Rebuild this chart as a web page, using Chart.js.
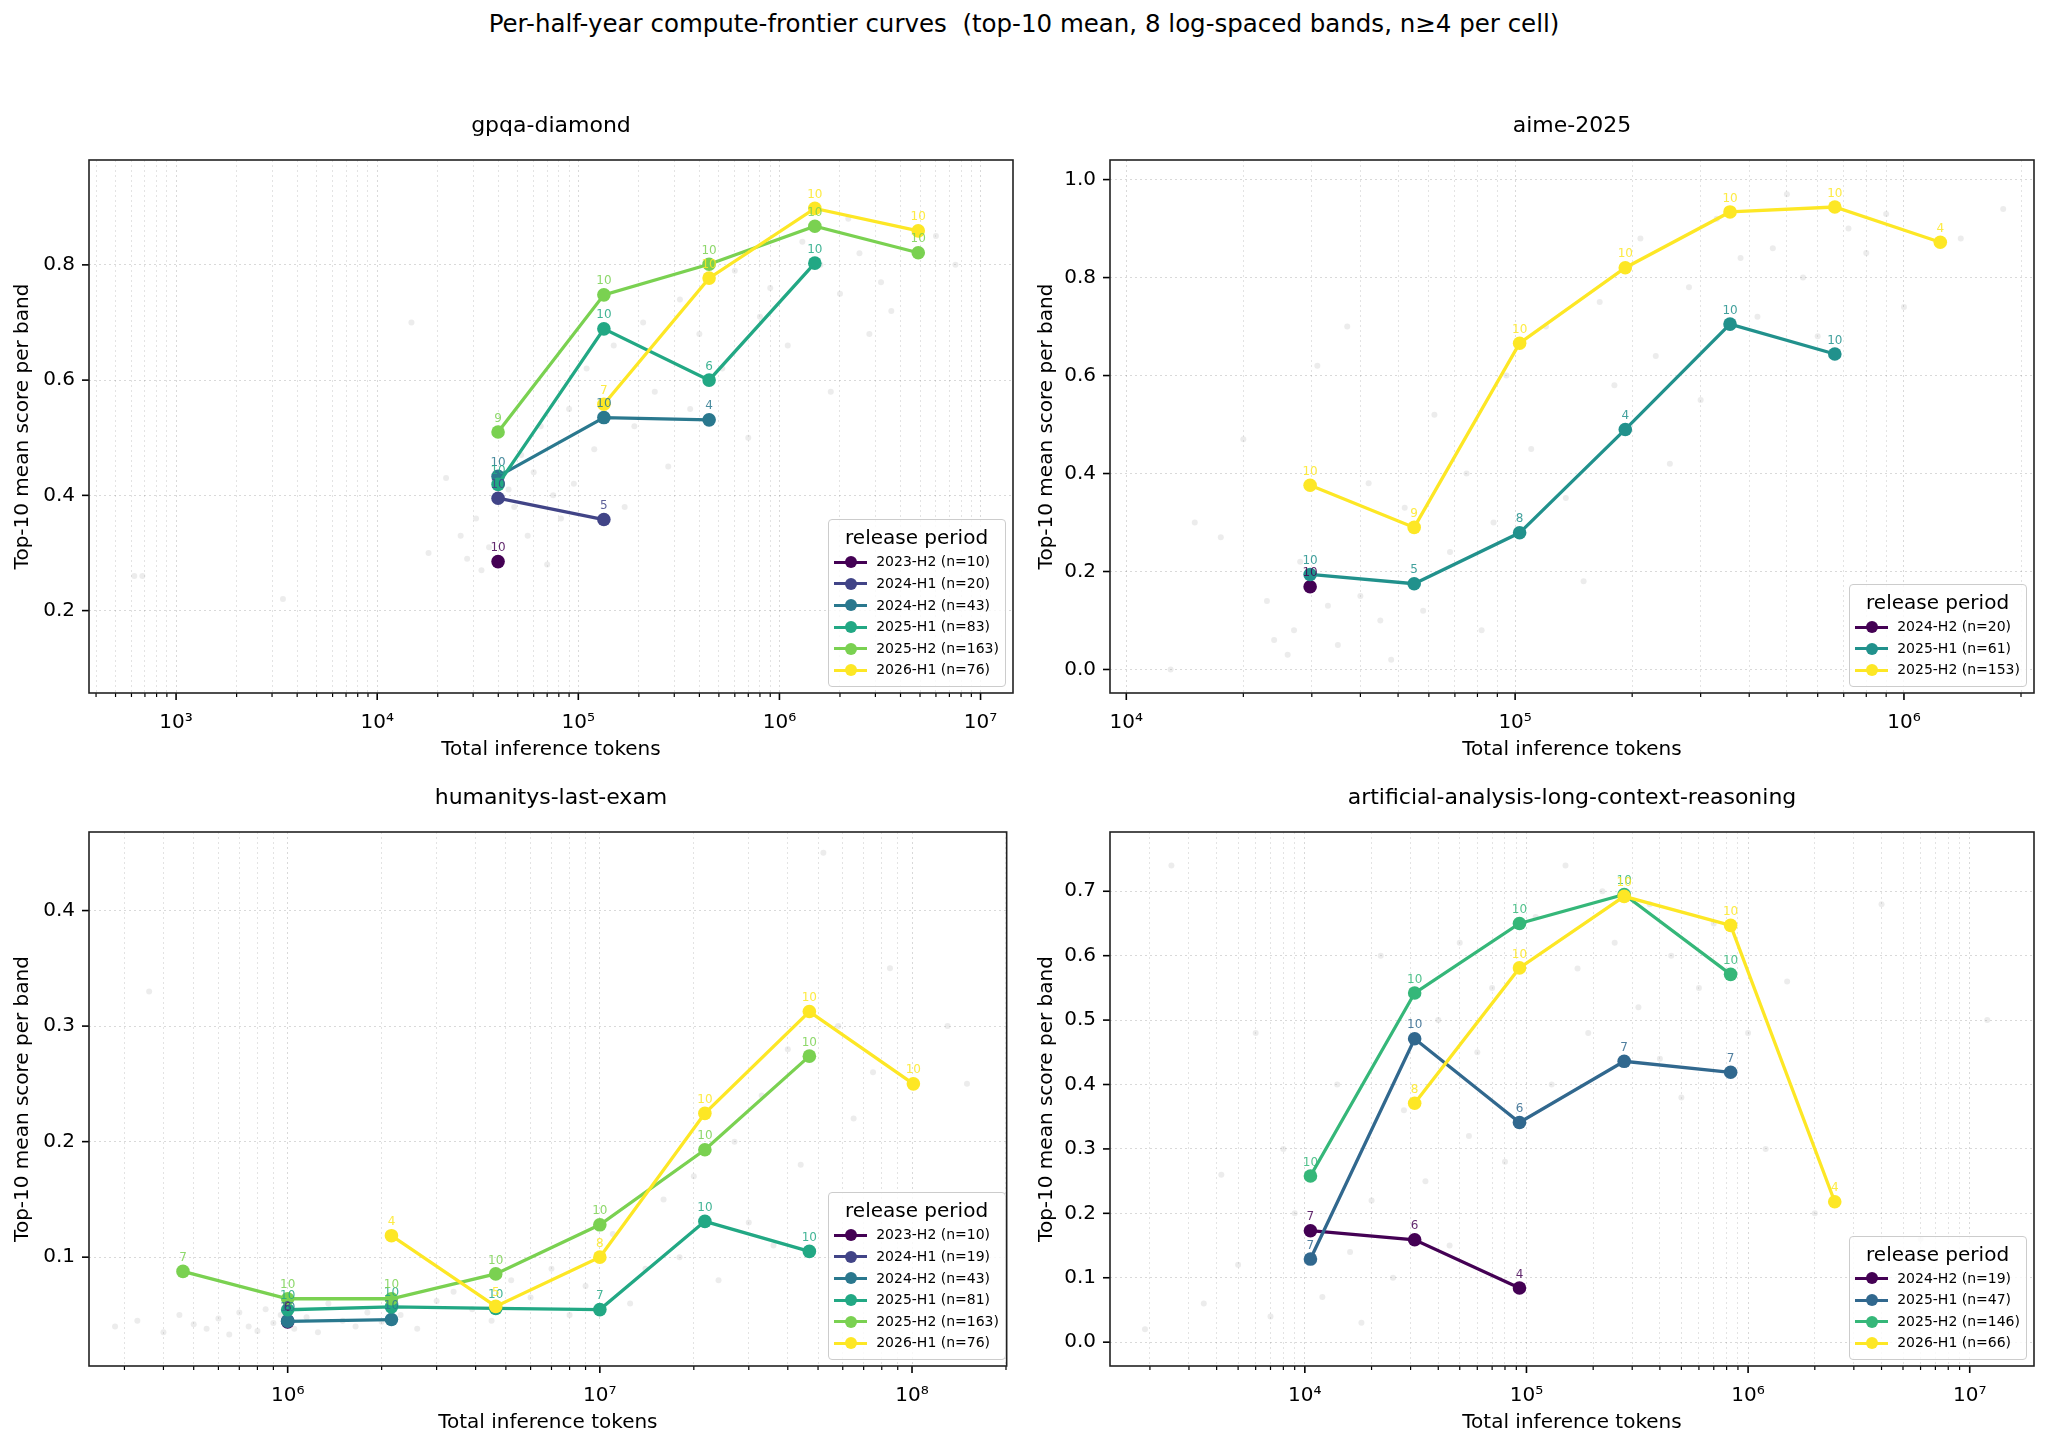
<!DOCTYPE html>
<html>
<head>
<meta charset="utf-8">
<title>Per-half-year compute-frontier curves</title>
<script src="https://cdn.jsdelivr.net/npm/chart.js@4.4.1/dist/chart.umd.min.js"></script>
<style>
  body { margin: 0; background: #fff; font-family: "DejaVu Sans", sans-serif; color: #000; }
  #page { position: relative; width: 2048px; height: 1448px; overflow: hidden; }
  #sup { position: absolute; left: 0; top: 9px; width: 2048px; text-align: center; font-size: 24.5px; line-height: 30px; white-space: pre; }
  .ptitle { position: absolute; text-align: center; font-size: 22px; line-height: 26px; white-space: nowrap; }
  canvas { position: absolute; }
  .legend { position: absolute; background: rgba(255,255,255,0.8); border: 1px solid #cccccc; border-radius: 4px; padding: 3px 6px 5px 5px; }
  .legend .lt { font-size: 20px; line-height: 28px; text-align: center; }
  .legend .row { position: relative; height: 21.6px; line-height: 21.6px; font-size: 14px; padding-left: 42px; white-space: nowrap; }
  .legend .hl { position: absolute; left: 0; top: 9.3px; width: 33px; height: 3px; }
  .legend .hm { position: absolute; left: 10.5px; top: 4.8px; width: 12px; height: 12px; border-radius: 50%; }
</style>
</head>
<body>
<div id="page">
  <div id="sup">Per-half-year compute-frontier curves  (top-10 mean, 8 log-spaced bands, n≥4 per cell)</div>
</div>
<script>
// ---- gpqa-diamond ----
const gpqaBands = [39900, 134000, 447000, 1500000, 4900000];
const gpqaPeriods = ['2023-H2 (n=10)', '2024-H1 (n=20)', '2024-H2 (n=43)', '2025-H1 (n=83)', '2025-H2 (n=163)', '2026-H1 (n=76)'];
const gpqaScores = [
  [0.285, null, null, null, null],
  [0.395, 0.358, null, null, null],
  [0.433, 0.535, 0.531, null, null],
  [0.419, 0.689, 0.600, 0.803, null],
  [0.510, 0.748, 0.801, 0.867, 0.821],
  [null, 0.558, 0.777, 0.898, 0.859]
];
const gpqaCounts = [
  [10, null, null, null, null],
  [10, 5, null, null, null],
  [10, 10, 4, null, null],
  [10, 10, 6, 10, null],
  [9, 10, 10, 10, 10],
  [null, 7, 10, 10, 10]
];
const gpqaYTicks = [0.2, 0.4, 0.6, 0.8];
const gpqaCloudX = [620, 680, 3400, 14800, 18000, 22000, 26000, 28000, 31000, 33000, 36000, 45000, 48000, 52000, 56000, 60000, 65000, 70000, 75000, 82000, 90000, 95000, 110000, 120000, 150000, 170000, 190000, 210000, 240000, 280000, 320000, 360000, 400000, 520000, 600000, 700000, 800000, 900000, 1100000, 1300000, 1600000, 1800000, 2000000, 2200000, 2500000, 2800000, 3200000, 3600000, 6000000, 7500000];
const gpqaCloudY = [0.26, 0.26, 0.22, 0.70, 0.30, 0.43, 0.33, 0.29, 0.36, 0.27, 0.31, 0.41, 0.38, 0.47, 0.33, 0.44, 0.52, 0.28, 0.40, 0.36, 0.55, 0.42, 0.62, 0.48, 0.66, 0.38, 0.52, 0.70, 0.58, 0.45, 0.74, 0.55, 0.68, 0.62, 0.79, 0.50, 0.71, 0.76, 0.66, 0.84, 0.80, 0.58, 0.75, 0.88, 0.82, 0.68, 0.77, 0.72, 0.85, 0.80];

// ---- aime-2025 ----
const aimeBands = [29700, 55000, 102700, 192000, 357000, 664000, 1240000];
const aimePeriods = ['2024-H2 (n=20)', '2025-H1 (n=61)', '2025-H2 (n=153)'];
const aimeScores = [
  [0.169, null, null, null, null, null, null],
  [0.194, 0.175, 0.279, 0.490, 0.705, 0.644, null],
  [0.376, 0.290, 0.666, 0.820, 0.934, 0.944, 0.872]
];
const aimeCounts = [
  [10, null, null, null, null, null, null],
  [10, 5, 8, 4, 10, 10, null],
  [10, 9, 10, 10, 10, 10, 4]
];
const aimeYTicks = [0.0, 0.2, 0.4, 0.6, 0.8, 1.0];
const aimeCloudX = [13000, 15000, 17500, 20000, 23000, 24000, 26000, 27000, 28000, 31000, 33000, 35000, 37000, 40000, 42000, 45000, 48000, 52000, 58000, 62000, 68000, 75000, 82000, 88000, 95000, 110000, 120000, 135000, 150000, 165000, 180000, 210000, 230000, 250000, 280000, 300000, 330000, 380000, 420000, 460000, 500000, 550000, 600000, 720000, 800000, 900000, 1000000, 1400000, 1800000];
const aimeCloudY = [0.00, 0.30, 0.27, 0.47, 0.14, 0.06, 0.03, 0.08, 0.22, 0.62, 0.13, 0.05, 0.70, 0.15, 0.38, 0.10, 0.02, 0.33, 0.12, 0.52, 0.24, 0.40, 0.08, 0.30, 0.60, 0.45, 0.70, 0.35, 0.18, 0.75, 0.58, 0.88, 0.64, 0.42, 0.78, 0.55, 0.92, 0.84, 0.72, 0.86, 0.97, 0.80, 0.68, 0.90, 0.85, 0.93, 0.74, 0.88, 0.94];

// ---- humanitys-last-exam ----
const hleBands = [462000, 1000000, 2150000, 4640000, 10000000, 21700000, 46900000, 101000000];
const hlePeriods = ['2023-H2 (n=10)', '2024-H1 (n=19)', '2024-H2 (n=43)', '2025-H1 (n=81)', '2025-H2 (n=163)', '2026-H1 (n=76)'];
const hleScores = [
  [null, 0.044, null, null, null, null, null, null],
  [null, 0.045, null, null, null, null, null, null],
  [null, 0.0445, 0.046, null, null, null, null, null],
  [null, 0.0545, 0.057, 0.0556, 0.0546, 0.131, 0.105, null],
  [0.0877, 0.064, 0.064, 0.0855, 0.128, 0.193, 0.274, null],
  [null, null, 0.1186, 0.0574, 0.100, 0.2245, 0.3126, 0.250]
];
const hleCounts = [
  [null, 6, null, null, null, null, null, null],
  [null, 8, null, null, null, null, null, null],
  [null, 10, 10, null, null, null, null, null],
  [null, 10, 10, 10, 7, 10, 10, null],
  [7, 10, 10, 10, 10, 10, 10, null],
  [null, null, 4, 5, 8, 10, 10, 10]
];
const hleYTicks = [0.1, 0.2, 0.3, 0.4];
const hleCloudX = [280000, 330000, 360000, 400000, 450000, 500000, 550000, 600000, 650000, 700000, 750000, 800000, 850000, 900000, 950000, 1050000, 1150000, 1250000, 1350000, 1500000, 1650000, 1800000, 2000000, 2300000, 2600000, 3000000, 3400000, 3900000, 4500000, 5200000, 6000000, 7000000, 8000000, 9000000, 11000000, 12500000, 14000000, 16000000, 18000000, 20000000, 24000000, 27000000, 30000000, 33000000, 36000000, 40000000, 44000000, 52000000, 58000000, 65000000, 75000000, 85000000, 130000000, 150000000];
const hleCloudY = [0.04, 0.045, 0.33, 0.035, 0.05, 0.042, 0.038, 0.047, 0.033, 0.052, 0.04, 0.036, 0.055, 0.043, 0.05, 0.038, 0.048, 0.035, 0.06, 0.045, 0.04, 0.052, 0.044, 0.05, 0.038, 0.062, 0.07, 0.055, 0.045, 0.08, 0.065, 0.09, 0.05, 0.075, 0.12, 0.06, 0.09, 0.15, 0.10, 0.17, 0.08, 0.20, 0.13, 0.24, 0.11, 0.28, 0.18, 0.45, 0.30, 0.22, 0.26, 0.35, 0.30, 0.25];

// ---- artificial-analysis-long-context-reasoning ----
const lcrBands = [10600, 31300, 93000, 276000, 834000, 2460000];
const lcrPeriods = ['2024-H2 (n=19)', '2025-H1 (n=47)', '2025-H2 (n=146)', '2026-H1 (n=66)'];
const lcrScores = [
  [0.173, 0.159, 0.084, null, null, null],
  [0.129, 0.471, 0.341, 0.436, 0.419, null],
  [0.258, 0.542, 0.650, 0.695, 0.571, null],
  [null, 0.371, 0.581, 0.692, 0.647, 0.218]
];
const lcrCounts = [
  [7, 6, 4, null, null, null],
  [7, 10, 6, 7, 7, null],
  [10, 10, 10, 10, 10, null],
  [null, 8, 10, 10, 10, 4]
];
const lcrYTicks = [0.0, 0.1, 0.2, 0.3, 0.4, 0.5, 0.6, 0.7];
const lcrCloudX = [1900, 2500, 3500, 4200, 5000, 6000, 7000, 8000, 9000, 12000, 14000, 16000, 18000, 20000, 22000, 25000, 28000, 35000, 40000, 45000, 50000, 55000, 60000, 70000, 80000, 110000, 130000, 150000, 170000, 190000, 220000, 250000, 320000, 360000, 400000, 450000, 500000, 600000, 700000, 1000000, 1200000, 1500000, 2000000, 3000000, 4000000, 6000000, 12000000];
const lcrCloudY = [0.02, 0.74, 0.06, 0.26, 0.12, 0.48, 0.04, 0.30, 0.20, 0.07, 0.40, 0.14, 0.03, 0.22, 0.60, 0.10, 0.36, 0.25, 0.50, 0.15, 0.62, 0.32, 0.45, 0.55, 0.28, 0.66, 0.40, 0.74, 0.58, 0.48, 0.70, 0.62, 0.52, 0.68, 0.44, 0.60, 0.38, 0.55, 0.65, 0.48, 0.30, 0.56, 0.20, 0.10, 0.68, 0.16, 0.50];

// viridis samples
const viridis6 = ['#440154', '#414487', '#2a788e', '#22a884', '#7ad151', '#fde725'];
const viridis3 = ['#440154', '#21918c', '#fde725'];
const viridis4 = ['#440154', '#31688e', '#35b779', '#fde725'];

Chart.defaults.font.family = '"DejaVu Sans", sans-serif';
Chart.defaults.color = '#000';

const SUP = ['⁰', '¹', '²', '³', '⁴', '⁵', '⁶', '⁷', '⁸', '⁹'];

function isDecade(v) {
  const l = Math.log10(v);
  return Math.abs(l - Math.round(l)) < 1e-9;
}

function logTicks(min, max) {
  const out = [];
  for (let e = Math.floor(Math.log10(min)); e <= Math.ceil(Math.log10(max)); e++) {
    for (let m = 1; m <= 9; m++) {
      const v = m * Math.pow(10, e);
      if (v >= min && v <= max) out.push({value: v});
    }
  }
  return out;
}

const frame = {
  id: 'frame',
  afterDraw(chart) {
    const {ctx, chartArea: a, scales} = chart;
    ctx.save();
    ctx.strokeStyle = '#000';
    scales.x.ticks.forEach(t => {
      const px = scales.x.getPixelForValue(t.value);
      const major = isDecade(t.value);
      ctx.lineWidth = major ? 1.6 : 1.2;
      ctx.beginPath();
      ctx.moveTo(px, a.bottom);
      ctx.lineTo(px, a.bottom + (major ? 7 : 4));
      ctx.stroke();
    });
    ctx.lineWidth = 1.6;
    scales.y.ticks.forEach(t => {
      const py = scales.y.getPixelForValue(t.value);
      ctx.beginPath();
      ctx.moveTo(a.left - 7, py);
      ctx.lineTo(a.left, py);
      ctx.stroke();
    });
    ctx.strokeStyle = '#222';
    ctx.strokeRect(a.left, a.top, a.right - a.left, a.bottom - a.top);
    ctx.restore();
  }
};

const countLabels = {
  id: 'countLabels',
  afterDatasetsDraw(chart) {
    const ctx = chart.ctx;
    ctx.save();
    ctx.font = '12px "DejaVu Sans"';
    ctx.textAlign = 'center';
    ctx.textBaseline = 'bottom';
    ctx.globalAlpha = 0.85;
    chart.data.datasets.forEach((ds, i) => {
      if (!ds.counts) return;
      const meta = chart.getDatasetMeta(i);
      ctx.fillStyle = ds.borderColor;
      meta.data.forEach((pt, j) => ctx.fillText(String(ds.counts[j]), pt.x, pt.y - 7.5));
    });
    ctx.restore();
  }
};

function makePanel(p) {
  const page = document.getElementById('page');
  const cv = document.createElement('canvas');
  cv.width = p.w; cv.height = p.h;
  cv.style.left = p.left + 'px'; cv.style.top = p.top + 'px';
  page.appendChild(cv);

  const n = p.periods.length;
  const datasets = [{
    data: p.cloudX.map((x, k) => ({x: x, y: p.cloudY[k]})),
    showLine: false,
    pointRadius: 3,
    pointBorderWidth: 0,
    pointBackgroundColor: 'rgba(140,140,140,0.17)',
    order: n + 1
  }];
  p.scores.forEach((row, i) => {
    const pts = [], cnt = [];
    row.forEach((y, j) => {
      if (y !== null) { pts.push({x: p.bands[j], y: y}); cnt.push(p.counts[i][j]); }
    });
    datasets.push({
      data: pts,
      counts: cnt,
      showLine: true,
      borderColor: p.colors[i],
      backgroundColor: p.colors[i],
      pointBackgroundColor: p.colors[i],
      borderWidth: 3.3,
      pointRadius: 6.8,
      pointBorderWidth: 0,
      order: n - i
    });
  });

  const gridColor = c => (c.tick && isDecade(c.tick.value)) ? 'rgba(0,0,0,0.15)' : 'rgba(0,0,0,0.11)';

  new Chart(cv, {
    type: 'scatter',
    data: {datasets: datasets},
    options: {
      responsive: false,
      animation: false,
      devicePixelRatio: 1,
      layout: {autoPadding: false, padding: {left: 0, right: p.pr, top: 10, bottom: 0}},
      plugins: {legend: {display: false}, tooltip: {enabled: false}},
      events: [],
      scales: {
        x: {
          type: 'logarithmic',
          min: p.xmin, max: p.xmax,
          afterBuildTicks: s => { s.ticks = logTicks(p.xmin, p.xmax); },
          afterFit: s => { s.height = 72; },
          ticks: {
            autoSkip: false, maxRotation: 0, minRotation: 0, padding: 18,
            font: {size: 20}, color: '#000',
            callback: v => isDecade(v) ? '10' + String(Math.round(Math.log10(v))).split('').map(d => SUP[+d]).join('') : ''
          },
          grid: {color: gridColor, lineWidth: 1, drawTicks: false},
          border: {display: false, dash: [2, 3]},
          title: {display: true, text: 'Total inference tokens', font: {size: 20}, color: '#000', padding: {top: 0, bottom: 3}}
        },
        y: {
          type: 'linear',
          min: p.ymin, max: p.ymax,
          afterBuildTicks: s => { s.ticks = p.yticks.map(v => ({value: v})); },
          afterFit: s => { s.width = p.yw; },
          ticks: {padding: 14, font: {size: 20}, color: '#000', callback: v => v.toFixed(1)},
          grid: {color: 'rgba(0,0,0,0.15)', lineWidth: 1, drawTicks: false},
          border: {display: false, dash: [2, 3]},
          title: {display: true, text: 'Top-10 mean score per band', font: {size: 20}, color: '#000', padding: {top: 11, bottom: 0}}
        }
      }
    },
    plugins: [frame, countLabels]
  });

  // subplot title
  const t = document.createElement('div');
  t.className = 'ptitle';
  t.textContent = p.title;
  t.style.left = p.ax[0] + 'px';
  t.style.width = (p.ax[2] - p.ax[0]) + 'px';
  t.style.top = (p.ax[1] - 19 - 13) + 'px';
  page.appendChild(t);

  // legend
  const lg = document.createElement('div');
  lg.className = 'legend';
  lg.style.right = (2048 - (p.ax[2] - 7)) + 'px';
  lg.style.bottom = (1448 - (p.ax[3] - 6)) + 'px';
  let html = '<div class="lt">release period</div>';
  p.periods.forEach((lab, i) => {
    html += '<div class="row"><span class="hl" style="background:' + p.colors[i] + '"></span>' +
            '<span class="hm" style="background:' + p.colors[i] + '"></span>' + lab + '</div>';
  });
  lg.innerHTML = html;
  page.appendChild(lg);
}

makePanel({title: 'gpqa-diamond', left: 0, top: 134, w: 1024, h: 631, yw: 89, pr: 11, ax: [89, 144, 1013, 693],
  xmin: 369, xmax: 14.5e6, ymin: 0.057, ymax: 0.982, yticks: gpqaYTicks,
  bands: gpqaBands, periods: gpqaPeriods, scores: gpqaScores, counts: gpqaCounts, colors: viridis6,
  cloudX: gpqaCloudX, cloudY: gpqaCloudY});

makePanel({title: 'aime-2025', left: 1024, top: 134, w: 1024, h: 631, yw: 86, pr: 14, ax: [1110, 144, 2034, 693],
  xmin: 9080, xmax: 2.16e6, ymin: -0.048, ymax: 1.04, yticks: aimeYTicks,
  bands: aimeBands, periods: aimePeriods, scores: aimeScores, counts: aimeCounts, colors: viridis3,
  cloudX: aimeCloudX, cloudY: aimeCloudY});

makePanel({title: 'humanitys-last-exam', left: 0, top: 806, w: 1024, h: 632, yw: 89, pr: 11, ax: [89, 816, 1013, 1366],
  xmin: 231000, xmax: 2.01e8, ymin: 0.0058, ymax: 0.468, yticks: hleYTicks,
  bands: hleBands, periods: hlePeriods, scores: hleScores, counts: hleCounts, colors: viridis6,
  cloudX: hleCloudX, cloudY: hleCloudY});

makePanel({title: 'artificial-analysis-long-context-reasoning', left: 1024, top: 806, w: 1024, h: 632, yw: 86, pr: 14, ax: [1110, 816, 2034, 1366],
  xmin: 1321, xmax: 1.95e7, ymin: -0.037, ymax: 0.792, yticks: lcrYTicks,
  bands: lcrBands, periods: lcrPeriods, scores: lcrScores, counts: lcrCounts, colors: viridis4,
  cloudX: lcrCloudX, cloudY: lcrCloudY});
</script>
</body>
</html>
